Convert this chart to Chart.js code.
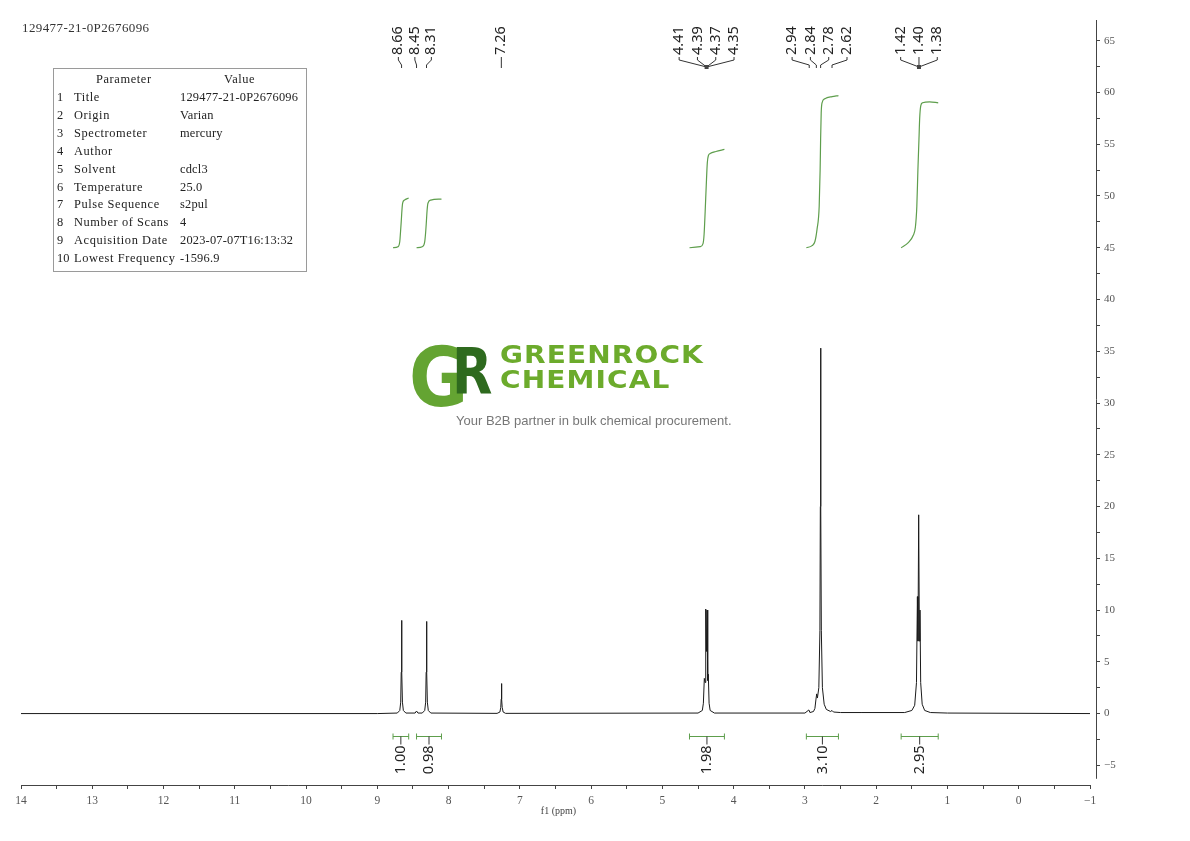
<!DOCTYPE html>
<html>
<head>
<meta charset="utf-8">
<script src="https://cdn.jsdelivr.net/npm/chart.js@4.4.1/dist/chart.umd.min.js"></script>
<style>
body { margin: 0; background: #fff; }
#wrap { position: relative; width: 1190px; height: 841px; overflow: hidden; }
canvas { position: absolute; left: 0; top: 0; }
.txt { position: absolute; white-space: nowrap; line-height: 1; }
#title { left: 22px; top: 20px; font: 13px "Liberation Serif", serif; color: #333; letter-spacing: 0.4px; }
#params { position: absolute; left: 53px; top: 68px; width: 254px; height: 204px;
  box-sizing: border-box; border: 1px solid #9a9a9a; font: 12.4px "Liberation Serif", serif; color: #222; }
#params .name { letter-spacing: 0.6px; }
#params .val { letter-spacing: 0.2px; }
#logoG { left: 409px; top: 330px; font: bold 82px "DejaVu Sans"; color: #64a432;
  transform: scaleX(0.88); transform-origin: left; }
#logoR { left: 452px; top: 335px; font: bold 64px "DejaVu Sans"; color: #2e6a1e;
  transform: scaleX(0.82); transform-origin: left; }
.logoTxt { left: 500px; font: bold 25px "DejaVu Sans"; color: #6cab2c; letter-spacing: 1px;
  transform: scaleX(1.12); transform-origin: left; }
#tag { left: 456px; top: 413px; font: 13px "Liberation Sans", Arial, sans-serif; color: #777; }
</style>
</head>
<body>
<div id="wrap">
  <canvas id="nmr" width="1190" height="841"></canvas>
  <div id="title" class="txt">129477-21-0P2676096</div>
  <div id="params"></div>
  <div id="logoG" class="txt">G</div>
  <div id="logoR" class="txt">R</div>
  <div class="txt logoTxt" style="top:340px">GREENROCK</div>
  <div class="txt logoTxt" style="top:365px">CHEMICAL</div>
  <div id="tag" class="txt">Your B2B partner in bulk chemical procurement.</div>
</div>
<script>
// spectrum trace (ppm, intensity)
const spectrumPpm = [14.0, 9.0, 8.72, 8.685, 8.672, 8.665, 8.66, 8.655, 8.648, 8.635, 8.60,
  8.47, 8.45, 8.43, 8.37, 8.335, 8.322, 8.315, 8.31, 8.305, 8.298, 8.285, 8.25,
  7.32, 7.28, 7.268, 7.262, 7.258, 7.254, 7.248, 7.235, 7.20,
  4.50, 4.44, 4.425, 4.412, 4.40, 4.392, 4.382, 4.374, 4.364, 4.356, 4.345, 4.33, 4.27,
  3.00, 2.945, 2.93, 2.88, 2.86, 2.845, 2.835, 2.825, 2.805, 2.79, 2.784, 2.78, 2.776, 2.77, 2.755,
  2.73, 2.70, 2.64, 2.62, 2.60, 2.50, 2.20,
  1.60, 1.50, 1.46, 1.435, 1.422, 1.414, 1.404, 1.394, 1.386, 1.376, 1.355, 1.32, 1.24, 1.00, -1.0];
const spectrumInt = [0, 0, 0.05, 0.3, 1.1, 4.0, 9.0, 4.0, 1.1, 0.3, 0.05,
  0.05, 0.25, 0.05, 0.05, 0.3, 1.1, 4.0, 8.9, 4.0, 1.1, 0.3, 0.05,
  0.02, 0.15, 0.6, 1.4, 2.9, 1.4, 0.6, 0.15, 0.02,
  0.05, 0.3, 1.0, 3.4, 3.0, 10.1, 6.0, 10.0, 3.2, 3.8, 1.0, 0.3, 0.05,
  0.05, 0.35, 0.1, 0.2, 0.5, 1.4, 1.9, 1.5, 2.5, 8.0, 20.0, 35.3, 20.0, 8.0, 2.5,
  0.9, 0.4, 0.2, 0.3, 0.15, 0.1, 0.1,
  0.1, 0.3, 0.8, 3.0, 11.3, 7.0, 19.2, 7.0, 10.0, 3.0, 0.9, 0.3, 0.1, 0.05, 0];

// integral curves
const integralPpm = [
  [8.78, 8.71, 8.685, 8.675, 8.665, 8.655, 8.645, 8.62, 8.56],
  [8.45, 8.37, 8.335, 8.322, 8.312, 8.302, 8.29, 8.25, 8.10],
  [4.62, 4.47, 4.43, 4.415, 4.40, 4.385, 4.37, 4.355, 4.33, 4.25, 4.13],
  [2.98, 2.90, 2.86, 2.83, 2.80, 2.787, 2.78, 2.772, 2.76, 2.72, 2.62, 2.53],
  [1.65, 1.55, 1.48, 1.45, 1.43, 1.415, 1.40, 1.39, 1.375, 1.35, 1.25, 1.13]
];
const integralHeight = [
  [45.0, 45.1, 45.6, 46.5, 47.5, 48.6, 49.3, 49.6, 49.8],
  [45.0, 45.1, 45.6, 46.5, 47.5, 48.6, 49.3, 49.6, 49.7],
  [45.0, 45.1, 45.4, 46.3, 48.5, 51.0, 53.2, 53.9, 54.1, 54.3, 54.5],
  [45.0, 45.2, 45.6, 46.8, 49.0, 52.5, 55.5, 58.0, 59.0, 59.4, 59.6, 59.7],
  [45.0, 45.5, 46.2, 47.0, 49.0, 52.5, 55.5, 57.5, 58.7, 59.0, 59.1, 59.0]
];
const integralFrom = [8.78, 8.45, 4.62, 2.98, 1.65];
const integralTo = [8.56, 8.10, 4.13, 2.53, 1.13];
const integralLabels = ['1.00', '0.98', '1.98', '3.10', '2.95'];

// peak picking labels
const peakShifts = [8.66, 8.45, 8.31, 7.26, 4.41, 4.39, 4.37, 4.35, 2.94, 2.84, 2.78, 2.62, 1.42, 1.40, 1.38];
const peakGroup = [0, 0, 0, 1, 2, 2, 2, 2, 3, 3, 3, 3, 4, 4, 4];
const joinedGroups = [2, 4];

// parameter table
const paramNames = ['Title', 'Origin', 'Spectrometer', 'Author', 'Solvent', 'Temperature',
  'Pulse Sequence', 'Number of Scans', 'Acquisition Date', 'Lowest Frequency'];
const paramValues = ['129477-21-0P2676096', 'Varian', 'mercury', '', 'cdcl3', '25.0',
  's2pul', '4', '2023-07-07T16:13:32', '-1596.9'];

const green = '#5e9e4c';

// build the table
const tbl = document.getElementById('params');
const cell = (text, left, top, cls) => {
  const d = document.createElement('div');
  d.className = 'txt ' + (cls || '');
  d.style.left = left + 'px';
  d.style.top = top + 'px';
  d.textContent = text;
  tbl.appendChild(d);
  return d;
};
cell('Parameter', 42, 4, 'name');
cell('Value', 170, 4, 'name');
paramNames.forEach((n, i) => {
  const top = 22 + 17.9 * i;
  cell(String(i + 1), 3, top);
  cell(n, 20, top, 'name');
  cell(paramValues[i], 126, top, 'val');
});

const datasets = [{
  data: spectrumPpm.map((p, i) => ({x: p, y: spectrumInt[i]})),
  borderColor: '#1a1a1a',
  borderWidth: 1
}];
integralPpm.forEach((arr, k) => {
  datasets.push({
    data: arr.map((p, i) => ({x: p, y: integralHeight[k][i]})),
    borderColor: green,
    borderWidth: 1.2,
    cubicInterpolationMode: 'monotone',
    tension: 0.4
  });
});

const serif = '"Liberation Serif", "Times New Roman", serif';
const minus = v => String(v).replace('-', '\u2212');

const annotate = {
  id: 'annotate',
  afterDraw(chart) {
    const {ctx, chartArea, scales: {x, y}} = chart;
    ctx.save();
    // axis lines
    ctx.strokeStyle = '#444';
    ctx.lineWidth = 1;
    ctx.beginPath();
    ctx.moveTo(x.getPixelForValue(14), Math.round(chartArea.bottom) + 0.5);
    ctx.lineTo(x.getPixelForValue(-1), Math.round(chartArea.bottom) + 0.5);
    ctx.moveTo(Math.round(chartArea.right) + 0.5, chartArea.top);
    ctx.lineTo(Math.round(chartArea.right) + 0.5, y.getPixelForValue(-6.3));
    ctx.stroke();

    // peak labels
    ctx.font = '14.5px "Noto Sans", sans-serif';
    ctx.fillStyle = '#222';
    ctx.strokeStyle = '#333';
    const groups = [];
    peakShifts.forEach((s, i) => { (groups[peakGroup[i]] = groups[peakGroup[i]] || []).push(s); });
    groups.forEach((g, gi) => {
      const px = g.map(s => x.getPixelForValue(s));
      const c = px.reduce((a, b) => a + b, 0) / px.length;
      const sp = gi === 0 ? 16.5 : 18.3;
      const joined = joinedGroups.includes(gi);
      g.forEach((s, i) => {
        const lx = c + (i - (g.length - 1) / 2) * sp;
        ctx.save();
        ctx.translate(lx, 55);
        ctx.rotate(-Math.PI / 2);
        ctx.textAlign = 'left';
        ctx.textBaseline = 'middle';
        ctx.fillText(s.toFixed(2), 0, 0);
        ctx.restore();
        ctx.beginPath();
        ctx.moveTo(lx, 57);
        ctx.lineTo(lx, 60);
        if (joined) {
          ctx.lineTo(c, 67);
        } else {
          ctx.lineTo(px[i], 65);
          ctx.lineTo(px[i], 68);
        }
        ctx.stroke();
      });
      if (joined) {
        ctx.fillStyle = '#444';
        ctx.fillRect(c - 2, 65, 4, 4);
        ctx.fillStyle = '#222';
      }
    });

    // integration brackets
    const yb = Math.round(y.getPixelForValue(-2.2)) + 0.5;
    integralFrom.forEach((f, i) => {
      const x1 = x.getPixelForValue(f);
      const x2 = x.getPixelForValue(integralTo[i]);
      const cx = (x1 + x2) / 2;
      ctx.strokeStyle = green;
      ctx.beginPath();
      ctx.moveTo(x1, yb); ctx.lineTo(x2, yb);
      ctx.moveTo(x1, yb - 3); ctx.lineTo(x1, yb + 3);
      ctx.moveTo(x2, yb - 3); ctx.lineTo(x2, yb + 3);
      ctx.stroke();
      ctx.strokeStyle = '#333';
      ctx.beginPath();
      ctx.moveTo(cx, yb); ctx.lineTo(cx, yb + 8);
      ctx.stroke();
      ctx.save();
      ctx.translate(cx, yb + 9);
      ctx.rotate(-Math.PI / 2);
      ctx.textAlign = 'right';
      ctx.textBaseline = 'middle';
      ctx.fillText(integralLabels[i], 0, 0);
      ctx.restore();
    });
    ctx.restore();
  }
};

new Chart(document.getElementById('nmr'), {
  type: 'line',
  data: {datasets},
  options: {
    responsive: false,
    animation: false,
    devicePixelRatio: 1,
    layout: {padding: {left: 21, right: 54, top: 20, bottom: 24}},
    elements: {point: {radius: 0}, line: {tension: 0, borderJoinStyle: 'round'}},
    plugins: {legend: {display: false}, tooltip: {enabled: false}},
    scales: {
      x: {
        type: 'linear',
        reverse: true,
        min: -1.084,
        max: 14,
        border: {display: false},
        grid: {drawOnChartArea: false, tickLength: 4, color: '#444'},
        ticks: {
          stepSize: 0.5,
          autoSkip: false,
          maxRotation: 0,
          includeBounds: false,
          padding: 5,
          color: '#555',
          font: {family: serif, size: 11.5},
          callback: v => Math.abs(v - Math.round(v)) < 1e-6 ? minus(Math.round(v)) : ''
        },
        title: {display: true, text: 'f1 (ppm)', color: '#444', padding: 0,
          font: {family: serif, size: 10}},
        afterFit: s => { s.height = 32; }
      },
      y: {
        position: 'right',
        min: -6.9,
        max: 67,
        border: {display: false},
        grid: {drawOnChartArea: false, tickLength: 4, color: '#444'},
        ticks: {
          stepSize: 2.5,
          autoSkip: false,
          includeBounds: false,
          padding: 4,
          color: '#555',
          font: {family: serif, size: 11},
          callback: v => Math.abs(v % 5) < 1e-6 ? minus(v) : ''
        },
        afterFit: s => { s.width = 40; }
      }
    }
  },
  plugins: [annotate]
});
</script>
</body>
</html>
